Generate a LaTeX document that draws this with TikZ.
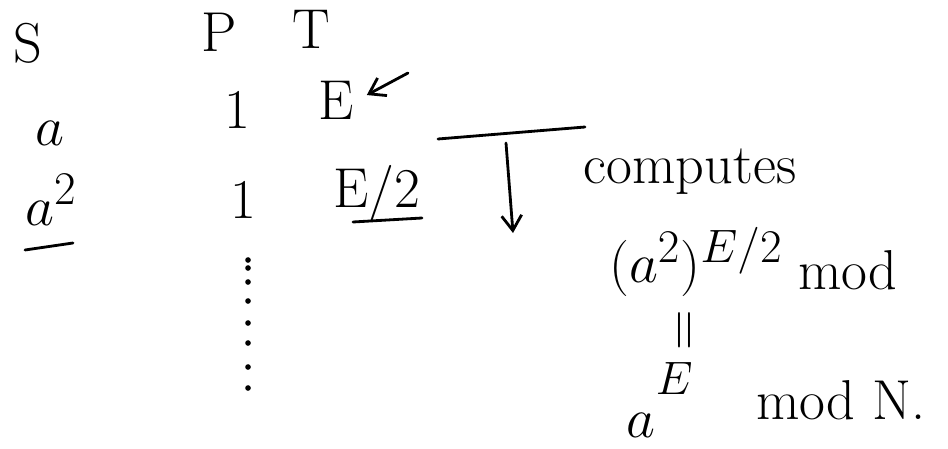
\documentclass[tikz,border=0pt]{standalone}
\usepackage{tikz}
\usetikzlibrary{arrows.meta}
\usepackage{amsmath,amssymb}
\tikzset{
  hand/.style={font=\fontsize{32}{36}\selectfont,inner sep=2pt},
  mathhand/.style={font=\fontsize{24.88}{28}\selectfont,inner sep=2pt,
    scale=1.286,transform shape},
  stroke/.style={line width=1.6pt,line cap=round},
  handarrow/.style={stroke,-{Straight Barb[length=3mm,width=4mm]}}
}
\begin{document}
\begin{tikzpicture}
  \useasboundingbox (0,0) rectangle (18.96,-8.98);
  % column heads
  \node[hand] (S) at (0.56,-0.86) {S};
  \node[hand] (P) at (4.38,-0.64) {P};
  \node[hand] (T) at (6.22,-0.58) {T};
  % first row
  \node[mathhand] (a1) at (1.0,-2.66) {$a$};
  \node[hand] (p1) at (4.74,-2.2) {1};
  \node[hand] (t1) at (6.72,-2.0) {E};
  \coordinate (tip) at (8.16,-1.46);
  \draw[handarrow,shorten >=6pt] (tip) -- (t1.east);
  % second row
  \node[mathhand] (a2) at (1.02,-4.0) {$a^2$};
  \node[hand] (p2) at (4.86,-4.0) {1};
  \node[hand] (t2) at (7.54,-3.86) {E/2};
  \draw[stroke] (0.5,-5.0) -- (1.46,-4.86);
  \draw[stroke] (7.06,-4.44) -- (8.44,-4.36);
  % dots going down
  \foreach \y in {260,268,282,301,323,343,367,388}
    \fill (4.96,-\y/50) circle (1.6pt);
  % the step
  \coordinate (barL) at (8.76,-2.78);
  \coordinate (barR) at (11.7,-2.54);
  \draw[stroke] (barL) -- (barR);
  \coordinate (dnTop) at (10.12,-2.86);
  \coordinate (dnBot) at (10.26,-4.66);
  \draw[handarrow] (dnTop) -- (dnBot);
  % what it computes
  \node[hand] (computes) at (13.8,-3.44) {computes};
  \node[mathhand] (pow) at (13.92,-5.24) {$(a^2)^{E/2}$};
  \node[hand] (modA) at (16.96,-5.4) {mod};
  \node[mathhand,rotate=90] (eq) at (13.76,-6.6) {$=$};
  \node[mathhand,anchor=base west] (aE) at (12.44,-8.74) {$a^{\raisebox{0.4em}{$\scriptstyle E$}}$};
  \node[hand] (modN) at (16.82,-8.0) {mod N.};
\end{tikzpicture}
\end{document}
